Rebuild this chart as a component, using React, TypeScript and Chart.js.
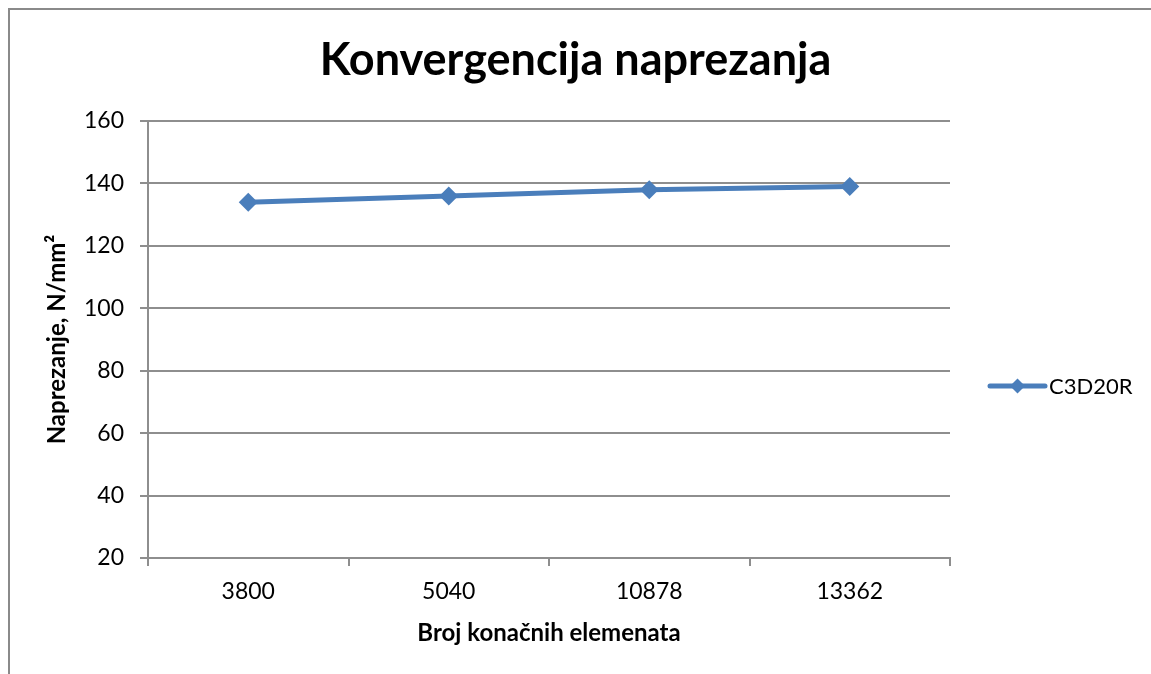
import React, { useEffect, useRef } from "react";
import { Chart, registerables } from "chart.js";

Chart.register(...registerables);

// Mesh sizes (number of finite elements) and the resulting stress values
const elementCounts = ["3800", "5040", "10878", "13362"];
const stressC3D20R = [134, 136, 138, 139];
const seriesName = "C3D20R";

const chartTitle = "Konvergencija naprezanja";
const xAxisTitle = "Broj konačnih elemenata";
const yAxisTitle = "Naprezanje, N/mm²";

const yMin = 20;
const yMax = 160;
const yStep = 20;

const LINE_BLUE = "#4A7EBB";
const GRID_GREY = "#8e8e8e";
const FONT = "Lato, 'Open Sans', sans-serif";

// Legend drawn to the right of the plot, Excel style: line with a diamond, then the name
const sideLegend = {
  id: "sideLegend",
  afterDraw(chart: any) {
    const ctx = chart.ctx;
    const ds = chart.data.datasets[0];
    const y = 386;
    const x0 = 990;
    const x1 = 1045;
    ctx.save();
    ctx.strokeStyle = ds.borderColor;
    ctx.lineWidth = 5;
    ctx.lineCap = "round";
    ctx.beginPath();
    ctx.moveTo(x0, y);
    ctx.lineTo(x1, y);
    ctx.stroke();
    ctx.fillStyle = ds.pointBackgroundColor;
    const r = 7.5;
    const cx = (x0 + x1) / 2;
    ctx.beginPath();
    ctx.moveTo(cx, y - r);
    ctx.lineTo(cx + r, y);
    ctx.lineTo(cx, y + r);
    ctx.lineTo(cx - r, y);
    ctx.closePath();
    ctx.fill();
    ctx.fillStyle = "#000";
    ctx.font = `22px ${FONT}`;
    ctx.textBaseline = "middle";
    ctx.textAlign = "left";
    ctx.fillText(ds.label, x1 + 4, y + 1);
    ctx.restore();
  },
};

export default function App() {
  const canvasRef = useRef<HTMLCanvasElement>(null);

  useEffect(() => {
    document.body.style.overflow = "hidden";
    const canvas = canvasRef.current;
    if (!canvas) return;
    const chart = new Chart(canvas, {
      type: "line",
      data: {
        labels: elementCounts,
        datasets: [
          {
            label: seriesName,
            data: stressC3D20R,
            borderColor: LINE_BLUE,
            backgroundColor: LINE_BLUE,
            pointBackgroundColor: LINE_BLUE,
            pointBorderColor: LINE_BLUE,
            borderWidth: 5,
            pointStyle: "rectRot",
            pointRadius: 9.5,
            pointBorderWidth: 0,
            tension: 0,
          },
        ],
      },
      options: {
        animation: false,
        responsive: false,
        maintainAspectRatio: false,
        layout: { padding: 0 },
        plugins: {
          legend: { display: false },
          tooltip: { enabled: false },
          title: {
            display: true,
            text: chartTitle,
            color: "#000",
            font: { family: FONT, size: 45, weight: "bold", lineHeight: 1.2 },
            padding: { top: 33, bottom: 34 },
          },
        },
        scales: {
          x: {
            type: "category",
            offset: true,
            afterFit(scale: any) {
              scale.height = 116;
            },
            grid: {
              offset: true,
              drawOnChartArea: false,
              drawTicks: true,
              tickLength: 8,
              color: GRID_GREY,
              lineWidth: 2,
            },
            border: { display: true, color: GRID_GREY, width: 2 },
            ticks: {
              color: "#000",
              font: { family: FONT, size: 23 },
              padding: 12,
              maxRotation: 0,
            },
            title: {
              display: true,
              text: xAxisTitle,
              color: "#000",
              font: { family: FONT, size: 24, weight: "bold", lineHeight: 1.2 },
              padding: { top: 0, bottom: 26 },
            },
          },
          y: {
            min: yMin,
            max: yMax,
            afterFit(scale: any) {
              scale.width = 148;
            },
            grid: {
              drawTicks: true,
              tickLength: 8,
              color: GRID_GREY,
              lineWidth: 2,
            },
            border: { display: true, color: GRID_GREY, width: 2 },
            ticks: {
              stepSize: yStep,
              color: "#000",
              font: { family: FONT, size: 23 },
              padding: 16,
            },
            title: {
              display: true,
              text: yAxisTitle,
              color: "#000",
              font: { family: FONT, size: 24, weight: "bold", lineHeight: 1.2 },
              padding: { top: 43, bottom: 0 },
            },
          },
          // empty right-hand band that holds the legend
          legendBand: {
            type: "linear",
            position: "right",
            display: true,
            afterFit(scale: any) {
              scale.width = 201;
            },
            grid: { display: false, drawOnChartArea: false },
            border: { display: false },
            ticks: { display: false },
          },
        },
      },
      plugins: [sideLegend],
    });
    return () => chart.destroy();
  }, []);

  return (
    <div style={{ position: "fixed", left: 0, top: 0, width: 1151, height: 674, background: "#fff", overflow: "hidden" }}>
      <div
        style={{
          position: "absolute",
          left: 8,
          top: 8,
          width: 1200,
          height: 720,
          border: "2px solid #8a8a8a",
          boxSizing: "border-box",
        }}
      />
      <canvas ref={canvasRef} width={1151} height={674} style={{ position: "absolute", left: 0, top: 0 }} />
    </div>
  );
}
